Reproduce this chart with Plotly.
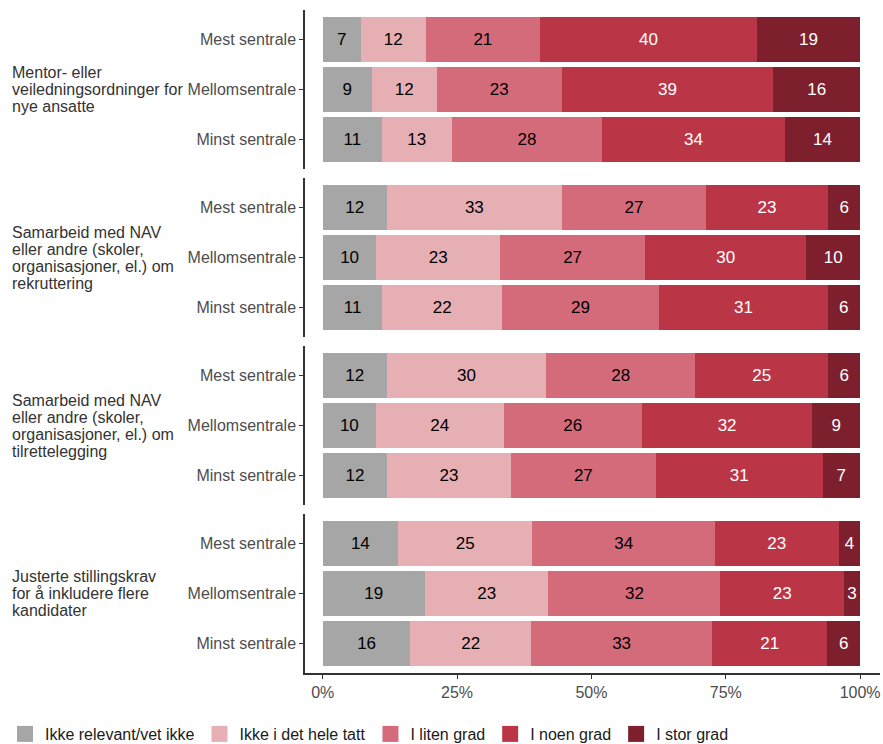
import plotly.graph_objects as go
from plotly.subplots import make_subplots

groups = [
    ["Mentor- eller", "veiledningsordninger for", "nye ansatte"],
    ["Samarbeid med NAV", "eller andre (skoler,", "organisasjoner, el.) om", "rekruttering"],
    ["Samarbeid med NAV", "eller andre (skoler,", "organisasjoner, el.) om", "tilrettelegging"],
    ["Justerte stillingskrav", "for å inkludere flere", "kandidater"],
]
rows_cat = ["Mest sentrale", "Mellomsentrale", "Minst sentrale"]
answers = ["Ikke relevant/vet ikke", "Ikke i det hele tatt", "I liten grad", "I noen grad", "I stor grad"]
colors = ["#A6A6A6", "#E6AFB4", "#D46B7B", "#BA3647", "#7E1F2D"]
text_colors = ["black", "black", "black", "white", "white"]

# values[group][row] = [answers...]
values = [
    [[7, 12, 21, 40, 19], [9, 12, 23, 39, 16], [11, 13, 28, 34, 14]],
    [[12, 33, 27, 23, 6], [10, 23, 27, 30, 10], [11, 22, 29, 31, 6]],
    [[12, 30, 28, 25, 6], [10, 24, 26, 32, 9], [12, 23, 27, 31, 7]],
    [[14, 25, 34, 23, 4], [19, 23, 32, 23, 3], [16, 22, 33, 21, 6]],
]
xticks = [0, 0.25, 0.5, 0.75, 1.0]
xticklabels = ["0%", "25%", "50%", "75%", "100%"]

W, H = 883, 744
ml, mr, mt, mb = 305, 3, 10, 71
plot_w = W - ml - mr
plot_h = H - mt - mb
gap = 9
fig = make_subplots(rows=4, cols=1, shared_xaxes=True, vertical_spacing=gap / plot_h)

font_family = "Liberation Sans, Arial, sans-serif"

for g in range(4):
    for a in range(5):
        fig.add_trace(go.Bar(
            y=rows_cat,
            x=[values[g][r][a] for r in range(3)],
            orientation="h",
            name=answers[a],
            legendgroup=answers[a],
            showlegend=False,
            marker=dict(color=colors[a], line=dict(width=0)),
            width=0.9,
            text=[str(values[g][r][a]) for r in range(3)],
            textposition="inside",
            insidetextanchor="middle",
            textangle=0,
            constraintext="none",
            insidetextfont=dict(color=text_colors[a], size=17, family=font_family),
            hoverinfo="skip",
        ), row=g + 1, col=1)

# legend entries (square keys)
for a in range(5):
    fig.add_trace(go.Scatter(
        x=[None], y=[None], mode="markers", name=answers[a], legendgroup=answers[a],
        marker=dict(symbol="square", size=16, color=colors[a]),
        showlegend=True, hoverinfo="skip",
    ), row=1, col=1)

for g in range(4):
    yname = "yaxis" if g == 0 else f"yaxis{g+1}"
    fig.layout[yname].update(
        categoryorder="array", categoryarray=rows_cat, range=[2.6, -0.6],
        showline=True, linecolor="#333333", linewidth=1.5,
        ticks="outside", ticklen=4, tickcolor="#333333", tickwidth=1,
        tickfont=dict(size=16, color="#4d4d4d", family=font_family),
        showgrid=False, zeroline=False, fixedrange=True, automargin=False,
    )
    xname = "xaxis" if g == 0 else f"xaxis{g+1}"
    fig.layout[xname].update(
        range=[-0.033, 1.037], showgrid=False, zeroline=False,
        tickvals=xticks, ticktext=xticklabels,
        showline=(g == 3), linecolor="#333333", linewidth=1.5,
        ticks="outside" if g == 3 else "", ticklen=4, tickcolor="#333333",
        tickfont=dict(size=16, color="#4d4d4d", family=font_family),
        automargin=False,
    )
    dom = fig.layout[yname].domain
    ymid = (dom[0] + dom[1]) / 2
    n = len(groups[g])
    line_h = 17
    for i, line in enumerate(groups[g]):
        fig.add_annotation(
            text=line, xref="paper", yref="paper", x=(10 - ml) / plot_w,
            y=ymid, yshift=((n - 1) / 2 - i) * line_h,
            xanchor="left", yanchor="middle", align="left", showarrow=False,
            font=dict(size=16, color="#333333", family=font_family),
        )

fig.update_layout(
    width=W, height=H,
    margin=dict(l=ml, r=mr, t=mt, b=mb, autoexpand=False),
    barmode="stack", barnorm="fraction",
    plot_bgcolor="white", paper_bgcolor="white",
    font=dict(family=font_family, size=16, color="#1a1a1a"),
    legend=dict(
        orientation="h", traceorder="normal",
        xref="paper", yref="paper", x=(5 - ml) / plot_w, y=-44 / plot_h,
        xanchor="left", yanchor="top",
        font=dict(size=16, color="#1a1a1a", family=font_family),
        itemwidth=30,
    ),
)

fig.write_html("out.html", config={"displayModeBar": False},
               post_script="document.body.style.margin='0';")
